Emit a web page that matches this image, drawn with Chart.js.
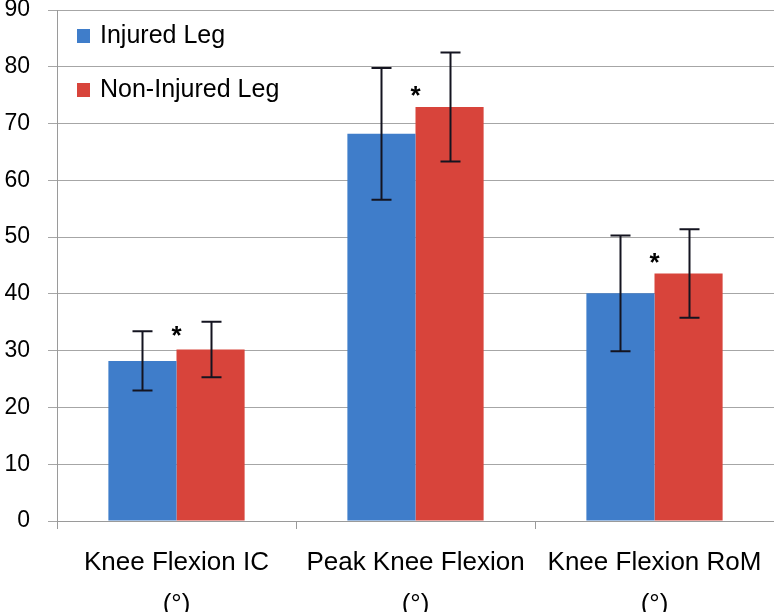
<!DOCTYPE html>
<html>
<head>
<meta charset="utf-8">
<script src="https://cdn.jsdelivr.net/npm/chart.js@4/dist/chart.umd.min.js"></script>
<style>
html,body{margin:0;padding:0;background:#fff;}
#wrap{width:774px;height:612px;position:relative;}
</style>
</head>
<body>
<div id="wrap"><canvas id="c" width="774" height="612"></canvas></div>
<script>
const categories = [['Knee Flexion IC','(°)'], ['Peak Knee Flexion','(°)'], ['Knee Flexion RoM','(°)']];
const seriesNames = ['Injured Leg', 'Non-Injured Leg'];
const injuredMean = [28.2, 68.2, 40.1];
const injuredSD = [5.2, 11.6, 10.2];
const nonInjuredMean = [30.2, 72.9, 43.6];
const nonInjuredSD = [4.9, 9.6, 7.8];
const asteriskY = [33.3, 75.5, 46.2];
const yTicks = [0, 10, 20, 30, 40, 50, 60, 70, 80, 90];

const FONT = '"Liberation Sans", Arial, sans-serif';
const BLUE = '#3F7DCA';
const RED = '#D8443B';

const errorBars = {
  id: 'errorBars',
  afterDatasetsDraw(chart) {
    const ctx = chart.ctx;
    const y = chart.scales.y;
    const sds = [injuredSD, nonInjuredSD];
    chart.data.datasets.forEach((ds, di) => {
      const meta = chart.getDatasetMeta(di);
      meta.data.forEach((bar, i) => {
        const m = ds.data[i], s = sds[di][i];
        const yt = y.getPixelForValue(m + s), yb = y.getPixelForValue(m - s);
        const x = Math.round(bar.x) + 0.5;
        ctx.save();
        ctx.strokeStyle = '#141420';
        ctx.lineWidth = 2;
        ctx.beginPath();
        ctx.moveTo(x, yt); ctx.lineTo(x, yb);
        ctx.moveTo(x - 10, yt); ctx.lineTo(x + 10, yt);
        ctx.moveTo(x - 10, yb); ctx.lineTo(x + 10, yb);
        ctx.stroke();
        ctx.restore();
      });
    });
    const xs = chart.scales.x;
    ctx.save();
    ctx.fillStyle = '#000';
    ctx.font = 'bold 26px ' + FONT;
    ctx.textAlign = 'center';
    ctx.textBaseline = 'middle';
    asteriskY.forEach((v, i) => {
      ctx.fillText('*', xs.getPixelForValue(i), y.getPixelForValue(v) + 5);
    });
    ctx.restore();
    ctx.save();
    ctx.font = '25px ' + FONT;
    ctx.textBaseline = 'middle';
    ctx.textAlign = 'left';
    const ly = [36, 90];
    chart.data.datasets.forEach((ds, di) => {
      ctx.fillStyle = ds.backgroundColor;
      ctx.fillRect(77, ly[di] - 7, 13, 14);
      ctx.fillStyle = '#000';
      ctx.fillText(ds.label, 100, ly[di]);
    });
    ctx.restore();
  }
};

new Chart(document.getElementById('c'), {
  type: 'bar',
  data: {
    labels: categories,
    datasets: [
      { label: seriesNames[0], data: injuredMean, backgroundColor: BLUE, categoryPercentage: 0.57, barPercentage: 1.0 },
      { label: seriesNames[1], data: nonInjuredMean, backgroundColor: RED, categoryPercentage: 0.57, barPercentage: 1.0 }
    ]
  },
  options: {
    responsive: false,
    animation: false,
    devicePixelRatio: 1,
    layout: { padding: { top: 10, right: 0, left: 0, bottom: 0 } },
    plugins: { legend: { display: false }, tooltip: { enabled: false } },
    scales: {
      x: {
        grid: { offset: true, drawOnChartArea: false, drawTicks: true, tickLength: 8, color: '#9a9a9a' },
        border: { color: '#9a9a9a', width: 1 },
        ticks: { color: '#000', font: { family: FONT, size: 26, lineHeight: 1.62 }, padding: 13, maxRotation: 0, autoSkip: false },
        afterFit(s) { s.height = 91; s.paddingLeft = 0; s.paddingRight = 0; }
      },
      y: {
        min: 0, max: 90,
        afterBuildTicks(s) { s.ticks = yTicks.map(v => ({ value: v })); },
        grid: { color: '#a6a6a6', tickLength: 9, lineWidth: 1 },
        border: { color: '#9a9a9a', width: 1 },
        ticks: { color: '#000', font: { family: FONT, size: 23 }, padding: 18 },
        afterFit(s) { s.width = 57; s.paddingTop = 0; s.paddingBottom = 0; }
      }
    }
  },
  plugins: [errorBars]
});
</script>
</body>
</html>
